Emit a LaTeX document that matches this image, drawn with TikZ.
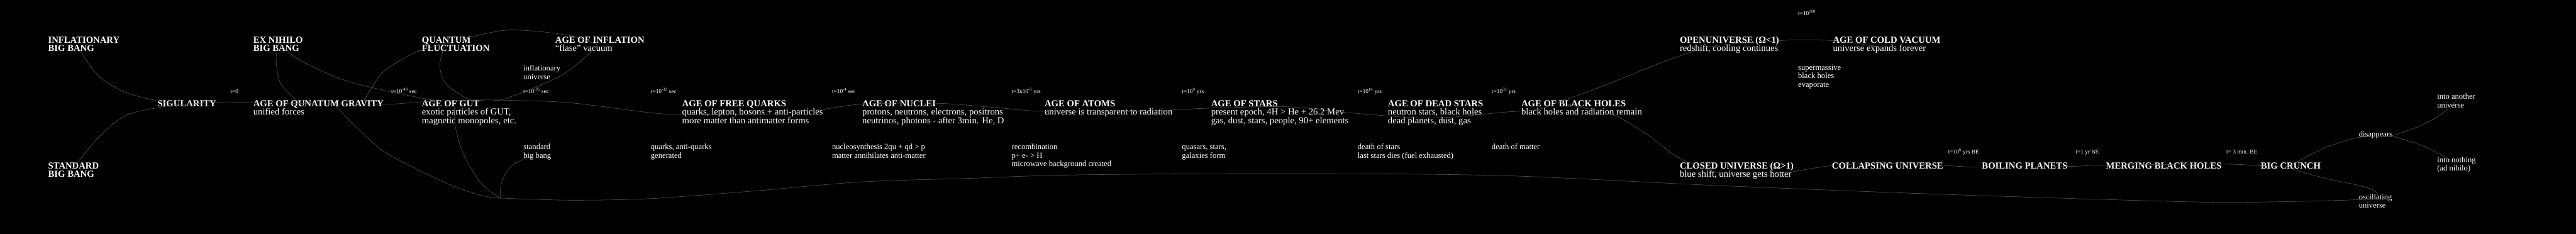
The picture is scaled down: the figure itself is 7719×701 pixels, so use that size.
\documentclass[tikz,border=0pt]{standalone}
\usepackage{fontspec}
\setmainfont{Liberation Serif}
\definecolor{linegray}{RGB}{92,92,92}
\newcommand\mystrut{\rule{0pt}{12pt}}
\begin{document}
\begin{tikzpicture}[x=0.5pt,y=-0.5pt,
  txt/.style={anchor=north west, inner sep=0pt, outer sep=0pt, align=left, text=white},
  ttl/.style={txt, font=\fontsize{13.85}{13.05}\selectfont},
  bttl/.style={txt, font=\fontsize{13.85}{13.05}\selectfont\bfseries},
  lbl/.style={txt, font=\fontsize{11.9}{13.05}\selectfont},
  tim/.style={txt, font=\fontsize{8.8}{10}\selectfont},
  conn/.style={draw=linegray, line width=0.5pt, line cap=round, line join=round}]
\useasboundingbox (0,0) rectangle (7719,701);
\fill[black] (0,0) rectangle (7719,701);

% ---------- text nodes ----------
\node[bttl] (inflbb) at (144.4,104.4) {\mystrut INFLATIONARY\\BIG BANG};
\node[bttl] (stdbb) at (144.4,481.1) {\mystrut STANDARD\\BIG BANG};
\node[bttl] (sing) at (472.2,294.6) {\mystrut SIGULARITY};
\node[bttl] (exnih) at (759.1,104.4) {\mystrut EX NIHILO\\BIG BANG};
\node[tim] (t0) at (690.5,256.7) {\mystrut t=0};
\node[ttl] (qg) at (759.1,294.6) {\mystrut\textbf{AGE OF QUNATUM GRAVITY}\\unified forces};
\node[tim] (t43) at (1172.4,256.7) {\mystrut t=10\textsuperscript{-43} sec};
\node[bttl] (qf) at (1264.2,104.4) {\mystrut QUANTUM\\FLUCTUATION};
\node[ttl] (gut) at (1264.2,294.6) {\mystrut\textbf{AGE OF GUT}\\exotic particles of GUT,\\magnetic monopoles, etc.};
\node[ttl] (infl) at (1663.8,104.4) {\mystrut\textbf{AGE OF INFLATION}\\“flase” vacuum};
\node[lbl] (influ) at (1568.3,188.5) {\mystrut inflationary\\universe};
\node[tim] (t35) at (1568.3,256.7) {\mystrut t=10\textsuperscript{-35} sec};
\node[lbl] (stdl) at (1568.7,423) {\mystrut standard\\big bang};
\node[tim] (t32) at (1950.3,256.7) {\mystrut t=10\textsuperscript{-32} sec};
\node[ttl] (fq) at (2044.2,294.6) {\mystrut\textbf{AGE OF FREE QUARKS}\\quarks, lepton, bosons + anti-particles\\more matter than antimatter forms};
\node[lbl] (qaq) at (1950.3,423) {\mystrut quarks, anti-quarks\\generated};
\node[tim] (t4) at (2493.2,256.7) {\mystrut t=10\textsuperscript{-4} sec};
\node[lbl] (nucleo) at (2493.2,423) {\mystrut nucleosynthesis 2qu + qd > p\\matter annihilates anti-matter};
\node[ttl] (nuc) at (2584,294.6) {\mystrut\textbf{AGE OF NUCLEI}\\protons, neutrons, electrons, positrons\\neutrinos, photons - after 3min. He, D};
\node[tim] (t5) at (3031.4,256.7) {\mystrut t=3\textbf{x}10\textsuperscript{-5} yrs};
\node[lbl] (recomb) at (3031.4,423) {\mystrut recombination\\p+ e- > H\\microwave background created};
\node[ttl] (atoms) at (3130.3,294.6) {\mystrut\textbf{AGE OF ATOMS}\\universe is transparent to radiation};
\node[tim] (t9) at (3541.8,256.7) {\mystrut t=10\textsuperscript{9} yrs};
\node[lbl] (quasar) at (3541.8,423) {\mystrut quasars, stars,\\galaxies form};
\node[ttl] (stars) at (3629.3,294.6) {\mystrut\textbf{AGE OF STARS}\\present epoch, 4H > He + 26.2 Mev\\gas, dust, stars, people, 90+ elements};
\node[tim] (t14) at (4068.5,256.7) {\mystrut t=10\textsuperscript{14} yrs};
\node[lbl] (deaths) at (4068.5,423) {\mystrut death of stars\\last stars dies (fuel exhausted)};
\node[ttl] (dead) at (4159,294.6) {\mystrut\textbf{AGE OF DEAD STARS}\\neutron stars, black holes\\dead planets, dust, gas};
\node[tim] (t33) at (4470,256.7) {\mystrut t=10\textsuperscript{33} yrs};
\node[lbl] (dmat) at (4470,423) {\mystrut death of matter};
\node[ttl] (bh) at (4558.7,294.6) {\mystrut\textbf{AGE OF BLACK HOLES}\\black holes and radiation remain};
\node[ttl] (open) at (5033.5,104.4) {\mystrut\textbf{OPENUNIVERSE (Ω<1)}\\redshift, cooling continues};
\node[ttl] (closed) at (5033.5,481.1) {\mystrut\textbf{CLOSED UNIVERSE (Ω>1)}\\blue shift, universe gets hotter};
\node[tim] (t100) at (5388.1,23.1) {\mystrut t=10\textsuperscript{100}};
\node[lbl] (smbh) at (5388.1,185.2) {\mystrut supermassive\\black holes\\evaporate};
\node[ttl] (cold) at (5492.5,104.4) {\mystrut\textbf{AGE OF COLD VACUUM}\\universe expands forever};
\node[bttl] (collapse) at (5489.5,481.1) {\mystrut COLLAPSING UNIVERSE};
\node[tim] (t6) at (5837.9,437.7) {\mystrut t=10\textsuperscript{6} yrs BE};
\node[bttl] (boil) at (5938.9,481.1) {\mystrut BOILING PLANETS};
\node[tim] (t1) at (6219.6,437.7) {\mystrut t=1 yr BE};
\node[bttl] (merge) at (6310.5,481.1) {\mystrut MERGING BLACK HOLES};
\node[tim] (t3) at (6671.5,437.7) {\mystrut t= 3 min. BE};
\node[bttl] (crunch) at (6774.6,481.1) {\mystrut BIG CRUNCH};
\node[lbl] (another) at (7302.9,272.3) {\mystrut into another\\universe};
\node[lbl] (disap) at (7068.4,385.8) {\mystrut disappears};
\node[lbl] (nothing) at (7302.9,462.3) {\mystrut into nothing\\(ad nihilo)};
\node[lbl] (oscil) at (7068.4,573.6) {\mystrut oscillating\\universe};

% ---------- connection points ----------
\coordinate (inflbbP) at (235.7,145.2);
\coordinate (stdbbP) at (214.6,509.3);
\coordinate (singP) at (540,314);
\coordinate (exP) at (834.4,128.4);
\coordinate (qgA) at (901,311.4);
\coordinate (qgB) at (1006.2,317.8);
\coordinate (qgC) at (1090.3,302.2);
\coordinate (qgP) at (950,311);
\coordinate (qfP) at (1334.7,130.5);
\coordinate (inflP) at (1791.4,134.7);
\coordinate (gutA) at (1300,301);
\coordinate (gutB) at (1362,319.9);
\coordinate (gutL) at (1450,300);
\coordinate (gutR) at (1480,300);
\coordinate (gutP) at (1400,300);
\coordinate (stdlP) at (1599.9,463);
\coordinate (jn) at (1498.9,593.4);
\coordinate (fqP) at (2298.8,341.8);
\coordinate (nucP) at (2804.1,309.3);
\coordinate (atomsP) at (3389.4,334.6);
\coordinate (starsP) at (3860,319.9);
\coordinate (deadP) at (4218.8,351.4);
\coordinate (bhP) at (4670,306);
\coordinate (openP) at (5330.4,122);
\coordinate (coldP) at (5637.7,141);
\coordinate (closedP) at (5258.9,530.3);
\coordinate (collP) at (5650,489);
\coordinate (boilP) at (5938.9,500.8);
\coordinate (mergeP) at (6311.3,494.5);
\coordinate (crunchP) at (6850,500);
\coordinate (disP) at (7167,407);
\coordinate (anoP) at (7360.5,300.5);
\coordinate (nothP) at (7360.5,489.6);
\coordinate (oscP) at (7125,587);

% ---------- connectors ----------
\draw[conn] plot[smooth] coordinates {(inflbbP) (294.6,227.3) (378.8,277.8) (505,309.3) (singP)};
\draw[conn] plot[smooth] coordinates {(stdbbP) (294.6,412.5) (378.8,345.1) (500.8,317.8) (singP)};
\draw[conn] plot[smooth] coordinates {(singP) (660,306) (759,307) (qgP) (1149,313) (1267,305) (gutP) (1503,300) (1700.9,307.2) (1940,336.7) (2042,343) (fqP) (2458.7,328.3) (2580,312.3) (nucP) (2980.9,322) (3128.2,333.8) (atomsP) (3620.9,324.1) (starsP) (4029.4,336.7) (deadP) (4345,351.4) (4500,336.7) (4606.3,328.3) (bhP)};
\draw[conn] plot[smooth] coordinates {(exP) (827.3,181) (842,252.5) (qgA)};
\draw[conn] plot[smooth] coordinates {(qgB) (1060.9,374.6) (1145,450.3) (1229,497) (1280,522) (1364,560) (1448,587) (jn)};
\draw[conn] plot[smooth] coordinates {(exP) (892.5,176.8) (1018.8,235.7) (1145,269.4) (gutA)};
\draw[conn] plot[smooth] coordinates {(qgC) (1145,218.9) (1220.8,168.4) (1267,149.4) (qfP)};
\draw[conn] plot[smooth] coordinates {(qfP) (1515.7,90.5) (1700.9,105.2) (inflP)};
\draw[conn] plot[smooth] coordinates {(qfP) (1317.9,193.6) (1334.7,248.3) (1402,297) (gutL)};
\draw[conn] plot[smooth] coordinates {(inflP) (1743,181) (1679.8,227.3) (1574.6,273.6) (1503,298.8) (gutR)};
\draw[conn] plot[smooth] coordinates {(gutB) (1364.2,378.8) (1389.4,463) (1440,547.1) (jn)};
\draw[conn] plot[smooth] coordinates {(stdlP) (1532.5,496.6) (1503,547.1) (jn)};
\draw[conn] plot[smooth] coordinates {(jn) (1700.9,599.7) (1940,595.5) (2256.7,572.4) (2580,545) (2896.7,534.5) (3220,524) (3860,519.8) (4500,526.1) (5140,555.6) (5780,580.8) (6420,601) (6703,606.1) (7060,598.5) (oscP)};
\draw[conn] plot[smooth] coordinates {(bhP) (4760,274) (4858.8,235.7) (4985,185.2) (5130,139) (openP) (5389.4,120) (5498.8,122) (coldP)};
\draw[conn] plot[smooth] coordinates {(bhP) (4740,322) (4837.7,345.1) (4943,408.2) (5027.1,471.4) (5130,512) (5225.2,528.2) (closedP) (5351.5,517.7) (5486.2,496.6) (collP) (5825.2,495.8) (boilP) (6197.7,498.7) (mergeP) (6660.9,491.6) (6774.6,496.6) (crunchP)};
\draw[conn] plot[smooth] coordinates {(crunchP) (6905,473.5) (6968,442) (7060,413.3) (7120,408) (disP)};
\draw[conn] plot[smooth] coordinates {(crunchP) (6905,517.7) (6989,538.7) (7060,553.5) (7102,565.3) (7123,577) (oscP)};
\draw[conn] plot[smooth] coordinates {(disP) (7249,378.2) (7312,344.6) (anoP)};
\draw[conn] plot[smooth] coordinates {(disP) (7249,432.9) (7312,462.3) (nothP)};
\end{tikzpicture}
\end{document}
